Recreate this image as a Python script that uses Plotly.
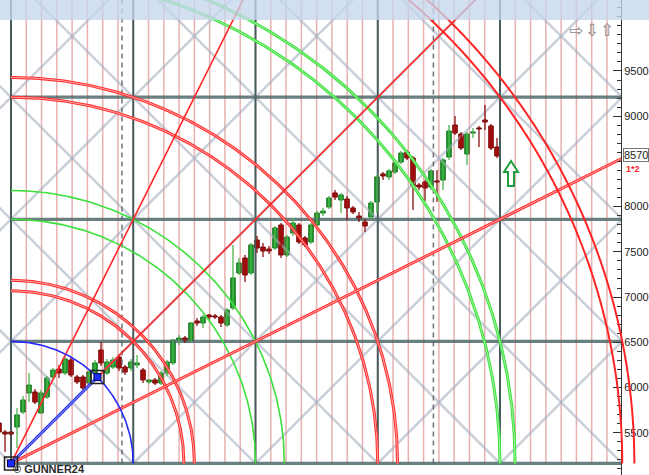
import numpy as np
import plotly.graph_objects as go

# ---------------- data (weekly candles) ----------------
bar_index = list(range(-2, 82))
open_ = [5607, 5507, 5507, 5563, 5729, 5939, 5950, 5718, 5895, 6116, 6204, 6160, 6304, 6116, 6116, 6049,
         6160, 6414, 6160, 6226, 6337, 6226, 6215, 6249, 6193, 6061, 6083, 6049, 6160, 6271, 6525, 6547,
         6514, 6735, 6713, 6801, 6790, 6779, 6691, 6879, 7266, 7432, 7266, 7631, 7553, 7531, 7542, 7797,
         7465, 7708, 7797, 7653, 7609, 7797, 7929, 7996, 8151, 8073, 8084, 7985, 7896, 7830, 7885, 8051,
         8361, 8328, 8383, 8493, 8604, 8538, 8239, 8272, 8217, 8283, 8294, 8549, 8903, 8803, 8582, 8814,
         8869, 8958, 8892, 8659]
high_ = [5640, 5530, 5519, 5773, 5906, 6160, 5983, 5972, 6127, 6215, 6249, 6337, 6326, 6138, 6138, 6193,
         6304, 6503, 6315, 6337, 6370, 6249, 6315, 6359, 6215, 6094, 6105, 6182, 6304, 6536, 6580, 6569,
         6724, 6768, 6801, 6812, 6812, 6801, 6879, 7576, 7432, 7465, 7598, 7675, 7598, 7565, 7786, 7819,
         7686, 7874, 7819, 7675, 7819, 7951, 7985, 8117, 8184, 8151, 8117, 8007, 7941, 7863, 8062, 8350,
         8383, 8416, 8516, 8615, 8626, 8560, 8261, 8294, 8416, 8405, 8538, 8903, 9002, 8825, 8825, 8869,
         8892, 9124, 8914, 8759]
low_ = [5463, 5286, 5463, 5331, 5707, 5839, 5817, 5707, 5873, 6094, 6105, 6138, 6116, 6038, 5972, 6016,
        6138, 6237, 6138, 6204, 6182, 6138, 6182, 6215, 6049, 6038, 6027, 6027, 6127, 6249, 6470, 6492,
        6503, 6680, 6658, 6746, 6757, 6669, 6669, 6857, 7244, 7166, 7244, 7487, 7443, 7476, 7520, 7432,
        7443, 7675, 7587, 7553, 7587, 7764, 7896, 7974, 8073, 7929, 7852, 7918, 7830, 7719, 7863, 7929,
        8294, 8294, 8361, 8471, 8516, 7963, 8184, 8062, 8184, 8051, 8184, 8516, 8792, 8626, 8460, 8759,
        8659, 8847, 8626, 8538]
close_ = [5507, 5485, 5485, 5696, 5861, 6027, 5839, 5939, 6105, 6193, 6160, 6315, 6138, 6061, 5994, 6171,
          6271, 6271, 6282, 6304, 6215, 6171, 6282, 6271, 6083, 6083, 6049, 6160, 6282, 6525, 6547, 6514,
          6713, 6713, 6779, 6779, 6779, 6713, 6857, 7211, 7377, 7244, 7576, 7542, 7509, 7509, 7764, 7465,
          7664, 7819, 7609, 7576, 7797, 7929, 7951, 8095, 8106, 8129, 7985, 7941, 7863, 7786, 8040, 8328,
          8339, 8394, 8482, 8593, 8538, 8228, 8217, 8206, 8394, 8272, 8516, 8836, 8814, 8648, 8803, 8825,
          8858, 8936, 8648, 8560]

last_price = 8570
y_tick_values = [5000, 5500, 6000, 6500, 7000, 7500, 8000, 9000, 9500]

# ---------------- Gann square construction ----------------
origin_bar = 0.0
origin_price = 5160
square_bars = 20.375
square_price = 1350
dashed_bars = [18.5, 70.4]
green_radii = [2.0, 5 ** 0.5]
green_radii_double = [4.0, 17 ** 0.5]
red_radii_double = [2 ** 0.5, 1.5, 3.0, 10 ** 0.5]
red_radii_outer = [5.0, 26 ** 0.5]
angle_slopes = [1.0, 2.0]          # 1x1 and 2x1 red lines
half_slope = 0.5                   # 1x2 line

X_MIN, X_MAX = -11 / 6, 610 / 6
Y_MIN, Y_MAX = 5032, 10285


def uv(u, v):
    return origin_bar + np.asarray(u) * square_bars, origin_price + np.asarray(v) * square_price


fig = go.Figure()


def line(xs, ys, color, width, dash=None, double=None):
    fig.add_trace(go.Scatter(x=list(xs), y=list(ys), mode="lines",
                             line=dict(color=color, width=width, dash=dash),
                             hoverinfo="skip", showlegend=False))
    if double:
        fig.add_trace(go.Scatter(x=list(xs), y=list(ys), mode="lines",
                                 line=dict(color=double, width=1),
                                 hoverinfo="skip", showlegend=False))


def seg_lists(segs):
    xs, ys = [], []
    for (x0, y0), (x1, y1) in segs:
        xs += [x0, x1, None]
        ys += [y0, y1, None]
    return xs, ys


TOP_V = 4.4
# thin red verticals every 1/8 square
segs = []
for j in range(0, 41):
    x, _ = uv(j / 8, 0)
    segs.append(((x, origin_price), (x, Y_MAX)))
xs, ys = seg_lists(segs)
line(xs, ys, "rgba(200,70,70,0.42)", 1.5)

# grey diagonals
segs = []
for n in range(-5, 6):
    a = uv(n, 0); b = uv(n + TOP_V, TOP_V)
    segs.append((a, b))
for n in range(0, 11):
    a = uv(n, 0); b = uv(n - TOP_V, TOP_V)
    segs.append((a, b))
xs, ys = seg_lists(segs)
line(xs, ys, "rgba(165,175,192,0.6)", 2.5)

# dashed verticals
for d in dashed_bars:
    line([d, d], [origin_price, Y_MAX], "rgba(100,100,100,0.9)", 1.5, dash="5px,4px")

# thick grid lines
segs = []
for i in range(0, 5):
    x, _ = uv(i, 0)
    segs.append(((x, origin_price), (x, Y_MAX)))
xs, ys = seg_lists(segs)
line(xs, ys, "rgb(70,92,92)", 2)
segs = []
for i in range(0, 4):
    _, y = uv(0, i)
    x1, _ = uv(5, 0)
    segs.append(((origin_bar, y), (x1, y)))
xs, ys = seg_lists(segs)
line(xs, ys, "rgba(80,105,105,0.85)", 3.2)

# ---------------- candles ----------------
inc = [i for i in range(len(bar_index)) if close_[i] >= open_[i]]
dec = [i for i in range(len(bar_index)) if close_[i] < open_[i]]
for idx, fill, edge, wick in [(inc, "#21a32d", "#0d6a17", "#4cb54f"),
                              (dec, "#b80c0c", "#6e0000", "#8a1010")]:
    wx, wy = [], []
    for i in idx:
        wx += [bar_index[i], bar_index[i], None]
        wy += [low_[i], high_[i], None]
    fig.add_trace(go.Scatter(x=wx, y=wy, mode="lines", line=dict(color=wick, width=1.3),
                             hoverinfo="skip", showlegend=False))
    fig.add_trace(go.Bar(x=[bar_index[i] for i in idx],
                         y=[max(abs(close_[i] - open_[i]), 12) for i in idx],
                         base=[min(open_[i], close_[i]) for i in idx],
                         width=0.75, marker=dict(color=fill, line=dict(color=edge, width=1)),
                         hoverinfo="skip", showlegend=False))

# ---------------- Gann arcs and angles ----------------
th = np.linspace(0, np.pi / 2, 240)
for r in green_radii:
    x, y = uv(r * np.cos(th), r * np.sin(th))
    line(x, y, "rgb(60,225,60)", 1.6)
for r in green_radii_double:
    x, y = uv(r * np.cos(th), r * np.sin(th))
    line(x, y, "rgb(60,225,60)", 3, double="rgba(170,245,170,0.9)")
for r in red_radii_double:
    x, y = uv(r * np.cos(th), r * np.sin(th))
    line(x, y, "rgb(255,45,45)", 3, double="rgba(255,175,175,0.9)")

for s in angle_slopes:
    x, y = uv([0, 5 / s], [0, 5])
    line(x, y, "rgb(255,40,40)", 1.6)
x, y = uv([0, 5], [0, 5 * half_slope])
line(x, y, "rgb(255,45,45)", 3, double="rgba(255,175,175,0.9)")

# blue arc + line
x, y = uv(np.cos(th), np.sin(th))
line(x, y, "rgb(40,40,255)", 1.6)
c45 = np.cos(np.pi / 4)
x, y = uv([0, c45], [0, c45])
line(x, y, "rgb(50,60,235)", 3, double="rgba(150,160,255,0.9)")
mx, my = uv([0, c45], [0, c45])
fig.add_trace(go.Scatter(x=list(mx), y=list(my), mode="markers",
                         marker=dict(symbol="square-open", size=13, color="#222", line=dict(width=1.5)),
                         hoverinfo="skip", showlegend=False, cliponaxis=False))
fig.add_trace(go.Scatter(x=list(mx), y=list(my), mode="markers",
                         marker=dict(symbol="square", size=7, color="#1a2cff",
                                     line=dict(color="#000044", width=1)),
                         hoverinfo="skip", showlegend=False, cliponaxis=False))

# big outer red arcs (drawn beyond the plot edge, unclipped)
shapes = []
th2 = np.linspace(0, np.pi / 2, 300)
for r in red_radii_outer:
    x, y = uv(r * np.cos(th2), r * np.sin(th2))
    px = (x - X_MIN) / (X_MAX - X_MIN)
    py = (y - Y_MIN) / (Y_MAX - Y_MIN)
    keep = py <= 1.02
    pts = [f"{a:.5f},{b:.5f}" for a, b in zip(px[keep], py[keep])]
    path = "M " + " L ".join(pts)
    shapes.append(dict(type="path", path=path, xref="paper", yref="paper",
                       line=dict(color="rgb(255,35,35)", width=2), layer="above"))

# top toolbar band
shapes.append(dict(type="rect", xref="paper", yref="paper", x0=0, x1=649 / 621, y0=1 - 20 / 475, y1=1,
                   fillcolor="rgba(196,214,236,0.78)", line=dict(width=0), layer="above"))

# green hollow up-arrow signal
ax = lambda p: p / 621
ay = lambda p: 1 - p / 475
arrow = [(511, 161), (518, 172), (514, 172), (514, 186), (508, 186), (508, 172), (504, 172)]
path = "M " + " L ".join(f"{ax(a):.5f},{ay(b):.5f}" for a, b in arrow) + " Z"
shapes.append(dict(type="path", path=path, xref="paper", yref="paper",
                   line=dict(color="rgb(30,160,60)", width=2), fillcolor="white", layer="above"))

annotations = [
    dict(text="<b>© GUNNER24</b>", xref="paper", yref="paper", x=11 / 621, y=1 - 469 / 475,
         xanchor="left", yanchor="middle", showarrow=False,
         font=dict(family="Liberation Sans, Arial", size=11, color="#2a2a2a")),
    dict(text="<b>1*2</b>", xref="paper", yref="y", x=1.005, y=8420, xanchor="left", yanchor="middle",
         showarrow=False, font=dict(family="Liberation Sans, Arial", size=9, color="rgb(255,30,30)")),
    dict(text=str(last_price), xref="paper", yref="y", x=1.004, y=last_price, xanchor="left",
         yanchor="middle", showarrow=False, bgcolor="white", bordercolor="#777", borderwidth=1,
         borderpad=0, font=dict(family="Liberation Sans, Arial", size=11, color="#222")),
]
for i, ch in enumerate(["⇨", "⇩", "⇧"]):
    annotations.append(dict(text=ch, xref="paper", yref="paper", x=(576 + 15.5 * i) / 621,
                            y=1 - 30 / 475, showarrow=False, xanchor="center", yanchor="middle",
                            font=dict(family="DejaVu Sans", size=17, color="#8a8a8a")))

fig.update_layout(
    width=649, height=475,
    margin=dict(l=0, r=28, t=0, b=0),
    paper_bgcolor="white", plot_bgcolor="white",
    barmode="overlay", showlegend=False,
    shapes=shapes, annotations=annotations,
    xaxis=dict(range=[X_MIN, X_MAX], visible=False, fixedrange=True),
    yaxis=dict(range=[Y_MIN, Y_MAX], side="right", tickvals=y_tick_values, showgrid=False,
               zeroline=False, showline=True, linecolor="#333", linewidth=1,
               ticks="inside", ticklen=8, tickcolor="#333",
               minor=dict(ticks="inside", dtick=100, ticklen=4, tickcolor="#333"),
               tickfont=dict(family="Liberation Sans, Arial", size=11, color="#222"),
               fixedrange=True),
)

fig.write_html("out.html", config={"displayModeBar": False},
               post_script="document.body.style.margin='0px';")
